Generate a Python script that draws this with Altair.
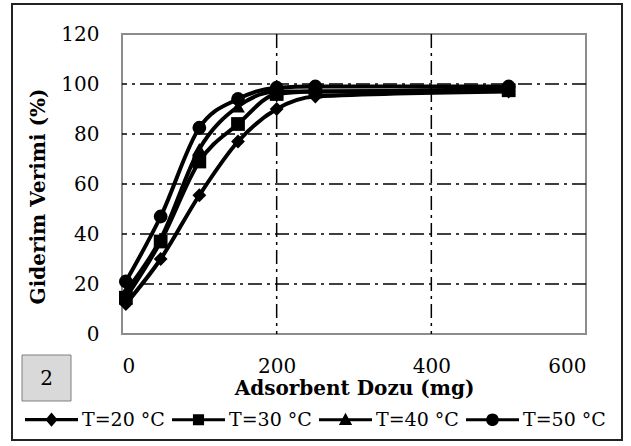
import altair as alt
import pandas as pd

# Adsorbent dose (mg) and removal efficiency (%) per temperature
doz = [5, 50, 100, 150, 200, 250, 500]
t20 = [12, 30, 55.5, 77, 90, 95, 97]
t30 = [14.5, 37, 69, 84, 96, 97, 97.5]
t40 = [17, 38, 74, 91, 97, 97, 98]
t50 = [21, 47, 82.5, 94, 98.5, 99, 99]

seriler = ["T=20 °C", "T=30 °C", "T=40 °C", "T=50 °C"]
degerler = [t20, t30, t40, t50]
isaretler = ["diamond", "square", "triangle-up", "circle"]

y_ticks = [0, 20, 40, 60, 80, 100, 120]
x_ticks = [0, 200, 400, 600]
y_grid = [20, 40, 60, 80, 100]
x_grid = [200, 400]

FONT = "DejaVu Serif"

rows = []
for s, vals in zip(seriler, degerler):
    for d, v in zip(doz, vals):
        rows.append({"doz": d, "verim": v, "seri": s})
df = pd.DataFrame(rows)

x_scale = alt.Scale(domain=[0, 600], nice=False)
y_scale = alt.Scale(domain=[0, 120], nice=False)

x_axis = alt.Axis(values=x_ticks, grid=False, domain=False, ticks=False,
                  labelPadding=22, labelFontSize=20, labelFont=FONT,
                  labelColor="black", title="Adsorbent Dozu (mg)",
                  titleFont=FONT, titleFontSize=20, titleFontWeight="bold",
                  titleColor="black", titleY=54, titleBaseline="middle")
y_axis = alt.Axis(values=y_ticks, grid=False, domain=False, ticks=False,
                  labelPadding=23, labelFontSize=20, labelFont=FONT,
                  labelColor="black", title="Giderim Verimi (%)",
                  titleFont=FONT, titleFontSize=20, titleFontWeight="bold",
                  titleColor="black", titleX=-84, titleY=162,
                  titleAngle=-90, titleBaseline="middle", titleAlign="center")

dash = [14, 5, 3, 5]

hgrid = alt.Chart(pd.DataFrame({"v": y_grid})).mark_rule(
    color="black", strokeWidth=1.5, strokeDash=dash
).encode(y=alt.Y("v:Q", scale=y_scale, axis=y_axis))

vgrid = alt.Chart(pd.DataFrame({"v": x_grid})).mark_rule(
    color="black", strokeWidth=1.5, strokeDash=dash
).encode(x=alt.X("v:Q", scale=x_scale, axis=x_axis))

base = alt.Chart(df).encode(
    x=alt.X("doz:Q", scale=x_scale, axis=x_axis),
    y=alt.Y("verim:Q", scale=y_scale, axis=y_axis),
)

lines = base.mark_line(color="black", strokeWidth=4, interpolate="monotone").encode(
    detail="seri:N"
)

points = base.mark_point(filled=True, color="black", size=190, opacity=1).encode(
    shape=alt.Shape("seri:N", scale=alt.Scale(domain=seriler, range=isaretler), legend=None)
)

# legend symbols: a filled bar standing in for the line, with the series marker on it
# (unit coordinates; all sub-paths wound clockwise so the overlap stays filled)
bar = "M-1,-0.06H1V0.06H-1Z"
leg_paths = [
    bar + "M0,-0.27L0.23,0L0,0.27L-0.23,0Z",
    bar + "M-0.21,-0.21H0.21V0.21H-0.21Z",
    bar + "M0,-0.26L0.25,0.2L-0.25,0.2Z",
    bar + "M-0.24,0A0.24,0.24 0 1,1 0.24,0A0.24,0.24 0 1,1 -0.24,0Z",
]

legend_layer = alt.Chart(df).transform_filter("false").mark_point(
    filled=True, color="black", size=2809, opacity=1
).encode(
    x=alt.X("doz:Q", scale=x_scale, axis=x_axis),
    y=alt.Y("verim:Q", scale=y_scale, axis=y_axis),
    shape=alt.Shape(
        "seri:N",
        scale=alt.Scale(domain=seriler, range=leg_paths),
        legend=alt.Legend(
            title=None, orient="none", legendX=-98, legendY=358,
            direction="horizontal", columns=4, columnPadding=4,
            labelFont=FONT, labelFontSize=19, labelColor="black",
            labelOffset=3, labelLimit=200, padding=0,
            symbolFillColor="black", symbolOpacity=1, symbolSize=2809,
        ),
    ),
)

one = alt.Data(values=[{}])

frame = alt.Chart(one).mark_rect(
    fill="white", fillOpacity=0, stroke="#222222", strokeWidth=2
).encode(
    x=alt.value(-110), x2=alt.value(500), y=alt.value(-30), y2=alt.value(406)
)

box = alt.Chart(one).mark_rect(
    fill="#d9d9d9", stroke="#7f7f7f", strokeWidth=1
).encode(
    x=alt.value(-100), x2=alt.value(-51), y=alt.value(321), y2=alt.value(367)
)

box_text = alt.Chart(one).mark_text(
    text="2", font=FONT, fontSize=20, color="black", baseline="middle", align="center"
).encode(x=alt.value(-75.5), y=alt.value(345))

chart = alt.layer(
    frame, hgrid, vgrid, lines, points, legend_layer, box, box_text
).resolve_scale(shape="independent").resolve_legend(shape="independent").properties(
    width=464, height=300,
    autosize=alt.AutoSizeParams(type="none"),
    padding={"left": 122, "top": 34, "right": 45, "bottom": 112},
    background="white",
).configure_view(stroke="#8c8c8c", strokeWidth=2)

chart.save("out.html", embed_options={"renderer": "svg", "actions": False})
